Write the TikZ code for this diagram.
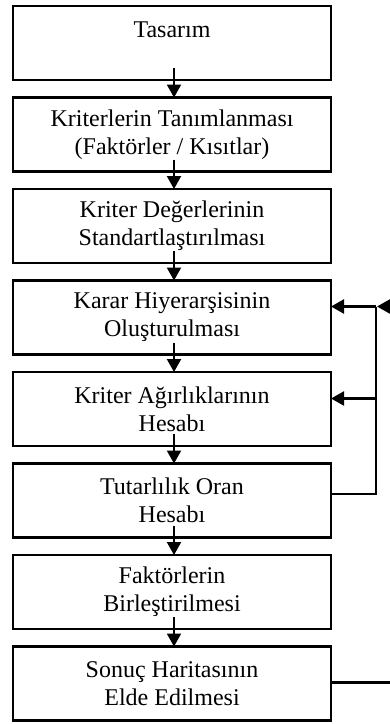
\documentclass[tikz,border=0pt]{standalone}
\usepackage{fontspec}
\setmainfont{Liberation Serif}
\usetikzlibrary{arrows.meta,positioning,calc}

\begin{document}
\begin{tikzpicture}[x=1pt, y=1pt, >={Triangle[length=13pt,width=14pt]},
  line width=2.2pt, font=\fontsize{24}{28}\selectfont,
  box/.style={draw, align=center, minimum width=318pt, minimum height=74pt,
    inner sep=0pt, outer sep=0pt},
  node distance=17.5pt,
]
  \useasboundingbox (0,0) rectangle (390,-724);
  \node[box] (tas) at (172,-43) {\raisebox{-2pt}{Tasarım}\\\mbox{}};
  \node[box, below=of tas] (krt) {Kriterlerin Tanımlanması\\(Faktörler / Kısıtlar)};
  \node[box, below=of krt] (std) {Kriter Değerlerinin\\Standartlaştırılması};
  \node[box, below=of std] (hyr) {Karar Hiyerarşisinin\\Oluşturulması};
  \node[box, below=of hyr] (agr) {Kriter Ağırlıklarının\\Hesabı};
  \node[box, below=of agr] (tut) {Tutarlılık Oran\\Hesabı};
  \node[box, below=of tut] (fak) {Faktörlerin\\Birleştirilmesi};
  \node[box, below=of fak] (son) {Sonuç Haritasının\\Elde Edilmesi};

  \foreach \a/\b in {tas/krt, krt/std, std/hyr, hyr/agr, agr/tut, tut/fak, fak/son}
    \draw[->] ($(\a.south)+(2,12)$) -- ($(\b.north)+(2,0)$);

  % geri besleme
  \coordinate (j1) at ($(hyr.east)+(45,11)$);
  \coordinate (j2) at ($(agr.east)+(45,10.5)$);
  \coordinate (j3) at ($(tut.east)+(45,6.5)$);
  \coordinate (jin) at ($(j1)+(20,0)$);
  \coordinate (jout) at ($(son.east)+(70,1)$);
  \draw[->] (j1) -- (j1 -| hyr.east);
  \draw[->] (j2) -- (j2 -| agr.east);
  \draw (j1) -- (j3) -- (j3 -| tut.east);
  \draw[->] (jin) -- ($(j1)+(1,0)$);
  \draw (son.east |- jout) -- (jout);
\end{tikzpicture}
\end{document}
